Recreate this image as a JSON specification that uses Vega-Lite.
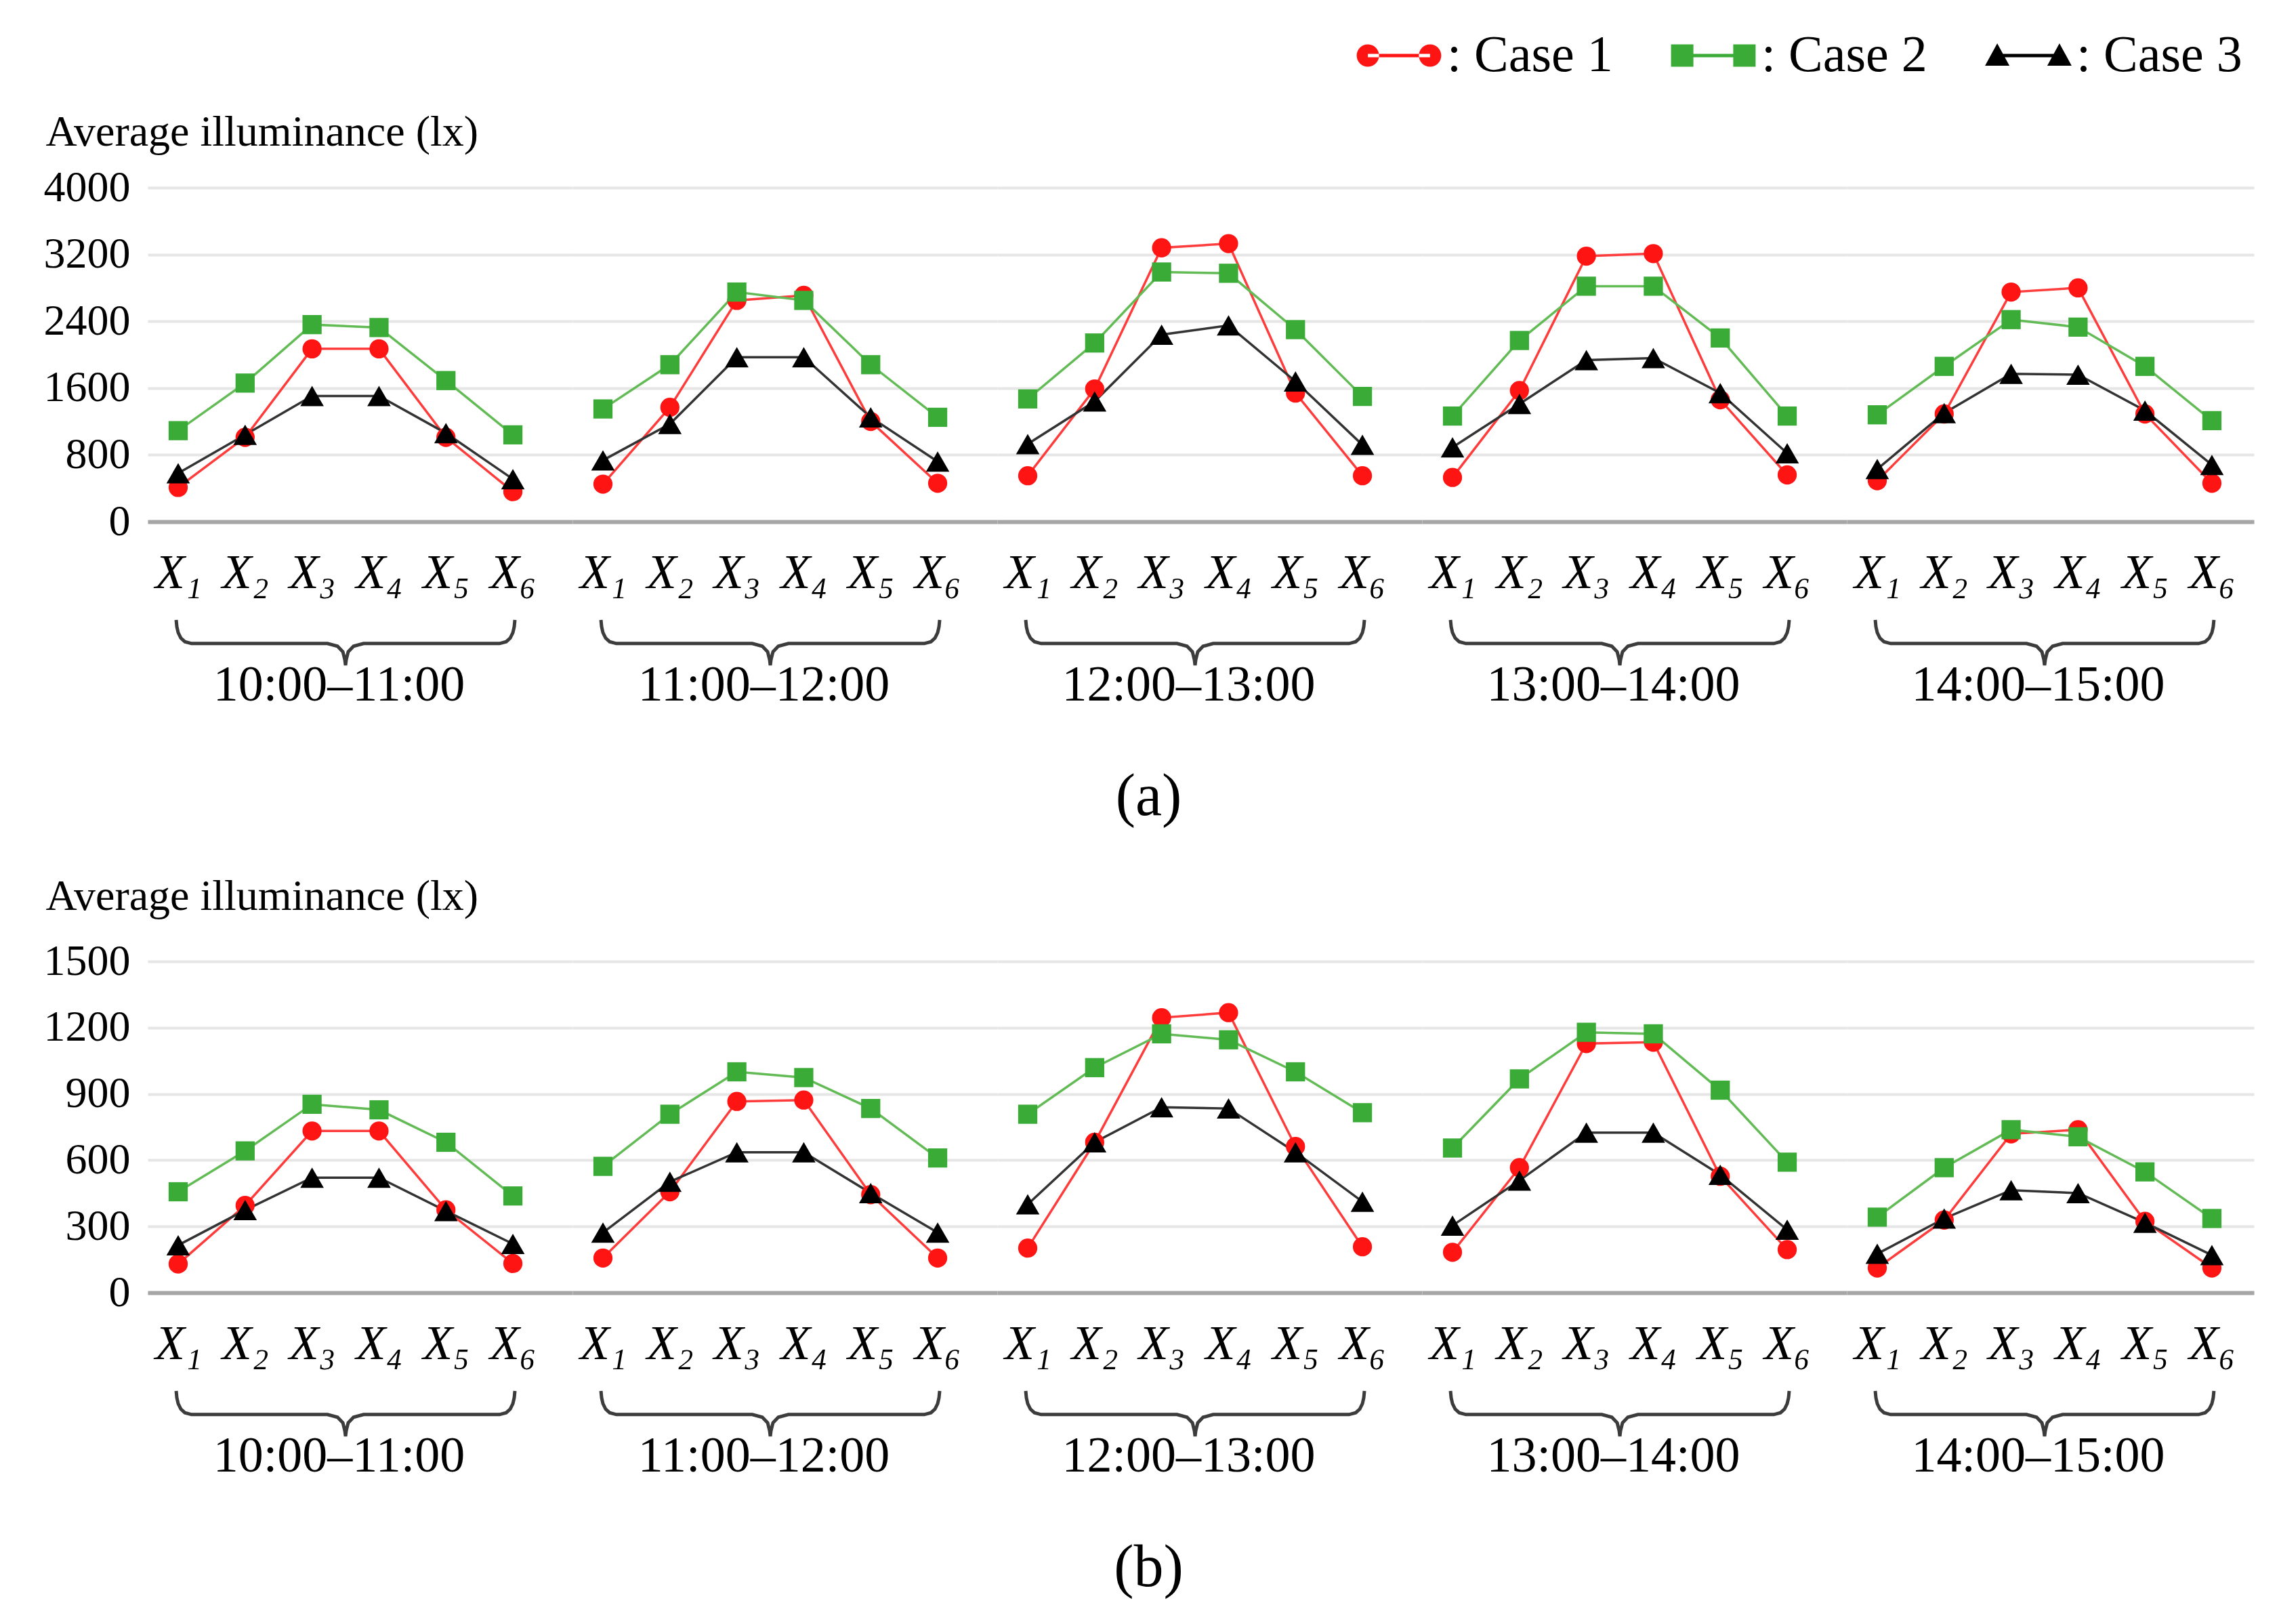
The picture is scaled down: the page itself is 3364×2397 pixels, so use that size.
{
  "$schema": "https://vega.github.io/schema/vega-lite/v6.json",
  "background": "white",
  "padding": {"left": 64, "top": 44, "right": 10, "bottom": 10},
  "datasets": {
    "illum": [
      {"panel": "a", "period": "10:00–11:00", "case": "Case 1", "sensor": 1, "lux": 410},
      {"panel": "a", "period": "10:00–11:00", "case": "Case 1", "sensor": 2, "lux": 1010},
      {"panel": "a", "period": "10:00–11:00", "case": "Case 1", "sensor": 3, "lux": 2070},
      {"panel": "a", "period": "10:00–11:00", "case": "Case 1", "sensor": 4, "lux": 2070},
      {"panel": "a", "period": "10:00–11:00", "case": "Case 1", "sensor": 5, "lux": 1010},
      {"panel": "a", "period": "10:00–11:00", "case": "Case 1", "sensor": 6, "lux": 360},
      {"panel": "a", "period": "10:00–11:00", "case": "Case 2", "sensor": 1, "lux": 1090},
      {"panel": "a", "period": "10:00–11:00", "case": "Case 2", "sensor": 2, "lux": 1660},
      {"panel": "a", "period": "10:00–11:00", "case": "Case 2", "sensor": 3, "lux": 2360},
      {"panel": "a", "period": "10:00–11:00", "case": "Case 2", "sensor": 4, "lux": 2325},
      {"panel": "a", "period": "10:00–11:00", "case": "Case 2", "sensor": 5, "lux": 1690},
      {"panel": "a", "period": "10:00–11:00", "case": "Case 2", "sensor": 6, "lux": 1040},
      {"panel": "a", "period": "10:00–11:00", "case": "Case 3", "sensor": 1, "lux": 580},
      {"panel": "a", "period": "10:00–11:00", "case": "Case 3", "sensor": 2, "lux": 1040},
      {"panel": "a", "period": "10:00–11:00", "case": "Case 3", "sensor": 3, "lux": 1505},
      {"panel": "a", "period": "10:00–11:00", "case": "Case 3", "sensor": 4, "lux": 1505},
      {"panel": "a", "period": "10:00–11:00", "case": "Case 3", "sensor": 5, "lux": 1060},
      {"panel": "a", "period": "10:00–11:00", "case": "Case 3", "sensor": 6, "lux": 510},
      {"panel": "a", "period": "11:00–12:00", "case": "Case 1", "sensor": 1, "lux": 450},
      {"panel": "a", "period": "11:00–12:00", "case": "Case 1", "sensor": 2, "lux": 1370},
      {"panel": "a", "period": "11:00–12:00", "case": "Case 1", "sensor": 3, "lux": 2650},
      {"panel": "a", "period": "11:00–12:00", "case": "Case 1", "sensor": 4, "lux": 2710},
      {"panel": "a", "period": "11:00–12:00", "case": "Case 1", "sensor": 5, "lux": 1200},
      {"panel": "a", "period": "11:00–12:00", "case": "Case 1", "sensor": 6, "lux": 460},
      {"panel": "a", "period": "11:00–12:00", "case": "Case 2", "sensor": 1, "lux": 1350},
      {"panel": "a", "period": "11:00–12:00", "case": "Case 2", "sensor": 2, "lux": 1880},
      {"panel": "a", "period": "11:00–12:00", "case": "Case 2", "sensor": 3, "lux": 2750},
      {"panel": "a", "period": "11:00–12:00", "case": "Case 2", "sensor": 4, "lux": 2650},
      {"panel": "a", "period": "11:00–12:00", "case": "Case 2", "sensor": 5, "lux": 1880},
      {"panel": "a", "period": "11:00–12:00", "case": "Case 2", "sensor": 6, "lux": 1250},
      {"panel": "a", "period": "11:00–12:00", "case": "Case 3", "sensor": 1, "lux": 735},
      {"panel": "a", "period": "11:00–12:00", "case": "Case 3", "sensor": 2, "lux": 1170},
      {"panel": "a", "period": "11:00–12:00", "case": "Case 3", "sensor": 3, "lux": 1970},
      {"panel": "a", "period": "11:00–12:00", "case": "Case 3", "sensor": 4, "lux": 1970},
      {"panel": "a", "period": "11:00–12:00", "case": "Case 3", "sensor": 5, "lux": 1250},
      {"panel": "a", "period": "11:00–12:00", "case": "Case 3", "sensor": 6, "lux": 720},
      {"panel": "a", "period": "12:00–13:00", "case": "Case 1", "sensor": 1, "lux": 550},
      {"panel": "a", "period": "12:00–13:00", "case": "Case 1", "sensor": 2, "lux": 1590},
      {"panel": "a", "period": "12:00–13:00", "case": "Case 1", "sensor": 3, "lux": 3280},
      {"panel": "a", "period": "12:00–13:00", "case": "Case 1", "sensor": 4, "lux": 3330},
      {"panel": "a", "period": "12:00–13:00", "case": "Case 1", "sensor": 5, "lux": 1540},
      {"panel": "a", "period": "12:00–13:00", "case": "Case 1", "sensor": 6, "lux": 550},
      {"panel": "a", "period": "12:00–13:00", "case": "Case 2", "sensor": 1, "lux": 1470},
      {"panel": "a", "period": "12:00–13:00", "case": "Case 2", "sensor": 2, "lux": 2140},
      {"panel": "a", "period": "12:00–13:00", "case": "Case 2", "sensor": 3, "lux": 2990},
      {"panel": "a", "period": "12:00–13:00", "case": "Case 2", "sensor": 4, "lux": 2975},
      {"panel": "a", "period": "12:00–13:00", "case": "Case 2", "sensor": 5, "lux": 2300},
      {"panel": "a", "period": "12:00–13:00", "case": "Case 2", "sensor": 6, "lux": 1500},
      {"panel": "a", "period": "12:00–13:00", "case": "Case 3", "sensor": 1, "lux": 930},
      {"panel": "a", "period": "12:00–13:00", "case": "Case 3", "sensor": 2, "lux": 1440},
      {"panel": "a", "period": "12:00–13:00", "case": "Case 3", "sensor": 3, "lux": 2240},
      {"panel": "a", "period": "12:00–13:00", "case": "Case 3", "sensor": 4, "lux": 2350},
      {"panel": "a", "period": "12:00–13:00", "case": "Case 3", "sensor": 5, "lux": 1680},
      {"panel": "a", "period": "12:00–13:00", "case": "Case 3", "sensor": 6, "lux": 920},
      {"panel": "a", "period": "13:00–14:00", "case": "Case 1", "sensor": 1, "lux": 530},
      {"panel": "a", "period": "13:00–14:00", "case": "Case 1", "sensor": 2, "lux": 1570},
      {"panel": "a", "period": "13:00–14:00", "case": "Case 1", "sensor": 3, "lux": 3180},
      {"panel": "a", "period": "13:00–14:00", "case": "Case 1", "sensor": 4, "lux": 3210},
      {"panel": "a", "period": "13:00–14:00", "case": "Case 1", "sensor": 5, "lux": 1460},
      {"panel": "a", "period": "13:00–14:00", "case": "Case 1", "sensor": 6, "lux": 560},
      {"panel": "a", "period": "13:00–14:00", "case": "Case 2", "sensor": 1, "lux": 1265},
      {"panel": "a", "period": "13:00–14:00", "case": "Case 2", "sensor": 2, "lux": 2170},
      {"panel": "a", "period": "13:00–14:00", "case": "Case 2", "sensor": 3, "lux": 2820},
      {"panel": "a", "period": "13:00–14:00", "case": "Case 2", "sensor": 4, "lux": 2820},
      {"panel": "a", "period": "13:00–14:00", "case": "Case 2", "sensor": 5, "lux": 2200},
      {"panel": "a", "period": "13:00–14:00", "case": "Case 2", "sensor": 6, "lux": 1265},
      {"panel": "a", "period": "13:00–14:00", "case": "Case 3", "sensor": 1, "lux": 890},
      {"panel": "a", "period": "13:00–14:00", "case": "Case 3", "sensor": 2, "lux": 1410},
      {"panel": "a", "period": "13:00–14:00", "case": "Case 3", "sensor": 3, "lux": 1935},
      {"panel": "a", "period": "13:00–14:00", "case": "Case 3", "sensor": 4, "lux": 1960},
      {"panel": "a", "period": "13:00–14:00", "case": "Case 3", "sensor": 5, "lux": 1540},
      {"panel": "a", "period": "13:00–14:00", "case": "Case 3", "sensor": 6, "lux": 820},
      {"panel": "a", "period": "14:00–15:00", "case": "Case 1", "sensor": 1, "lux": 490},
      {"panel": "a", "period": "14:00–15:00", "case": "Case 1", "sensor": 2, "lux": 1290},
      {"panel": "a", "period": "14:00–15:00", "case": "Case 1", "sensor": 3, "lux": 2750},
      {"panel": "a", "period": "14:00–15:00", "case": "Case 1", "sensor": 4, "lux": 2800},
      {"panel": "a", "period": "14:00–15:00", "case": "Case 1", "sensor": 5, "lux": 1290},
      {"panel": "a", "period": "14:00–15:00", "case": "Case 1", "sensor": 6, "lux": 460},
      {"panel": "a", "period": "14:00–15:00", "case": "Case 2", "sensor": 1, "lux": 1280},
      {"panel": "a", "period": "14:00–15:00", "case": "Case 2", "sensor": 2, "lux": 1860},
      {"panel": "a", "period": "14:00–15:00", "case": "Case 2", "sensor": 3, "lux": 2420},
      {"panel": "a", "period": "14:00–15:00", "case": "Case 2", "sensor": 4, "lux": 2330},
      {"panel": "a", "period": "14:00–15:00", "case": "Case 2", "sensor": 5, "lux": 1860},
      {"panel": "a", "period": "14:00–15:00", "case": "Case 2", "sensor": 6, "lux": 1210},
      {"panel": "a", "period": "14:00–15:00", "case": "Case 3", "sensor": 1, "lux": 630},
      {"panel": "a", "period": "14:00–15:00", "case": "Case 3", "sensor": 2, "lux": 1300},
      {"panel": "a", "period": "14:00–15:00", "case": "Case 3", "sensor": 3, "lux": 1770},
      {"panel": "a", "period": "14:00–15:00", "case": "Case 3", "sensor": 4, "lux": 1760},
      {"panel": "a", "period": "14:00–15:00", "case": "Case 3", "sensor": 5, "lux": 1330},
      {"panel": "a", "period": "14:00–15:00", "case": "Case 3", "sensor": 6, "lux": 680},
      {"panel": "b", "period": "10:00–11:00", "case": "Case 1", "sensor": 1, "lux": 130},
      {"panel": "b", "period": "10:00–11:00", "case": "Case 1", "sensor": 2, "lux": 395},
      {"panel": "b", "period": "10:00–11:00", "case": "Case 1", "sensor": 3, "lux": 732},
      {"panel": "b", "period": "10:00–11:00", "case": "Case 1", "sensor": 4, "lux": 732},
      {"panel": "b", "period": "10:00–11:00", "case": "Case 1", "sensor": 5, "lux": 375},
      {"panel": "b", "period": "10:00–11:00", "case": "Case 1", "sensor": 6, "lux": 132},
      {"panel": "b", "period": "10:00–11:00", "case": "Case 2", "sensor": 1, "lux": 457},
      {"panel": "b", "period": "10:00–11:00", "case": "Case 2", "sensor": 2, "lux": 642},
      {"panel": "b", "period": "10:00–11:00", "case": "Case 2", "sensor": 3, "lux": 853},
      {"panel": "b", "period": "10:00–11:00", "case": "Case 2", "sensor": 4, "lux": 828},
      {"panel": "b", "period": "10:00–11:00", "case": "Case 2", "sensor": 5, "lux": 681},
      {"panel": "b", "period": "10:00–11:00", "case": "Case 2", "sensor": 6, "lux": 438},
      {"panel": "b", "period": "10:00–11:00", "case": "Case 3", "sensor": 1, "lux": 215},
      {"panel": "b", "period": "10:00–11:00", "case": "Case 3", "sensor": 2, "lux": 374},
      {"panel": "b", "period": "10:00–11:00", "case": "Case 3", "sensor": 3, "lux": 521},
      {"panel": "b", "period": "10:00–11:00", "case": "Case 3", "sensor": 4, "lux": 521},
      {"panel": "b", "period": "10:00–11:00", "case": "Case 3", "sensor": 5, "lux": 370},
      {"panel": "b", "period": "10:00–11:00", "case": "Case 3", "sensor": 6, "lux": 221},
      {"panel": "b", "period": "11:00–12:00", "case": "Case 1", "sensor": 1, "lux": 157},
      {"panel": "b", "period": "11:00–12:00", "case": "Case 1", "sensor": 2, "lux": 457},
      {"panel": "b", "period": "11:00–12:00", "case": "Case 1", "sensor": 3, "lux": 866},
      {"panel": "b", "period": "11:00–12:00", "case": "Case 1", "sensor": 4, "lux": 872},
      {"panel": "b", "period": "11:00–12:00", "case": "Case 1", "sensor": 5, "lux": 444},
      {"panel": "b", "period": "11:00–12:00", "case": "Case 1", "sensor": 6, "lux": 157},
      {"panel": "b", "period": "11:00–12:00", "case": "Case 2", "sensor": 1, "lux": 572},
      {"panel": "b", "period": "11:00–12:00", "case": "Case 2", "sensor": 2, "lux": 808},
      {"panel": "b", "period": "11:00–12:00", "case": "Case 2", "sensor": 3, "lux": 1000},
      {"panel": "b", "period": "11:00–12:00", "case": "Case 2", "sensor": 4, "lux": 974},
      {"panel": "b", "period": "11:00–12:00", "case": "Case 2", "sensor": 5, "lux": 834},
      {"panel": "b", "period": "11:00–12:00", "case": "Case 2", "sensor": 6, "lux": 610},
      {"panel": "b", "period": "11:00–12:00", "case": "Case 3", "sensor": 1, "lux": 272},
      {"panel": "b", "period": "11:00–12:00", "case": "Case 3", "sensor": 2, "lux": 502},
      {"panel": "b", "period": "11:00–12:00", "case": "Case 3", "sensor": 3, "lux": 636},
      {"panel": "b", "period": "11:00–12:00", "case": "Case 3", "sensor": 4, "lux": 636},
      {"panel": "b", "period": "11:00–12:00", "case": "Case 3", "sensor": 5, "lux": 451},
      {"panel": "b", "period": "11:00–12:00", "case": "Case 3", "sensor": 6, "lux": 272},
      {"panel": "b", "period": "12:00–13:00", "case": "Case 1", "sensor": 1, "lux": 202},
      {"panel": "b", "period": "12:00–13:00", "case": "Case 1", "sensor": 2, "lux": 681},
      {"panel": "b", "period": "12:00–13:00", "case": "Case 1", "sensor": 3, "lux": 1245},
      {"panel": "b", "period": "12:00–13:00", "case": "Case 1", "sensor": 4, "lux": 1268},
      {"panel": "b", "period": "12:00–13:00", "case": "Case 1", "sensor": 5, "lux": 662},
      {"panel": "b", "period": "12:00–13:00", "case": "Case 1", "sensor": 6, "lux": 208},
      {"panel": "b", "period": "12:00–13:00", "case": "Case 2", "sensor": 1, "lux": 808},
      {"panel": "b", "period": "12:00–13:00", "case": "Case 2", "sensor": 2, "lux": 1019},
      {"panel": "b", "period": "12:00–13:00", "case": "Case 2", "sensor": 3, "lux": 1172},
      {"panel": "b", "period": "12:00–13:00", "case": "Case 2", "sensor": 4, "lux": 1145},
      {"panel": "b", "period": "12:00–13:00", "case": "Case 2", "sensor": 5, "lux": 1000},
      {"panel": "b", "period": "12:00–13:00", "case": "Case 2", "sensor": 6, "lux": 815},
      {"panel": "b", "period": "12:00–13:00", "case": "Case 3", "sensor": 1, "lux": 400},
      {"panel": "b", "period": "12:00–13:00", "case": "Case 3", "sensor": 2, "lux": 681},
      {"panel": "b", "period": "12:00–13:00", "case": "Case 3", "sensor": 3, "lux": 840},
      {"panel": "b", "period": "12:00–13:00", "case": "Case 3", "sensor": 4, "lux": 834},
      {"panel": "b", "period": "12:00–13:00", "case": "Case 3", "sensor": 5, "lux": 636},
      {"panel": "b", "period": "12:00–13:00", "case": "Case 3", "sensor": 6, "lux": 412},
      {"panel": "b", "period": "13:00–14:00", "case": "Case 1", "sensor": 1, "lux": 183},
      {"panel": "b", "period": "13:00–14:00", "case": "Case 1", "sensor": 2, "lux": 566},
      {"panel": "b", "period": "13:00–14:00", "case": "Case 1", "sensor": 3, "lux": 1128},
      {"panel": "b", "period": "13:00–14:00", "case": "Case 1", "sensor": 4, "lux": 1134},
      {"panel": "b", "period": "13:00–14:00", "case": "Case 1", "sensor": 5, "lux": 527},
      {"panel": "b", "period": "13:00–14:00", "case": "Case 1", "sensor": 6, "lux": 195},
      {"panel": "b", "period": "13:00–14:00", "case": "Case 2", "sensor": 1, "lux": 655},
      {"panel": "b", "period": "13:00–14:00", "case": "Case 2", "sensor": 2, "lux": 968},
      {"panel": "b", "period": "13:00–14:00", "case": "Case 2", "sensor": 3, "lux": 1179},
      {"panel": "b", "period": "13:00–14:00", "case": "Case 2", "sensor": 4, "lux": 1172},
      {"panel": "b", "period": "13:00–14:00", "case": "Case 2", "sensor": 5, "lux": 917},
      {"panel": "b", "period": "13:00–14:00", "case": "Case 2", "sensor": 6, "lux": 591},
      {"panel": "b", "period": "13:00–14:00", "case": "Case 3", "sensor": 1, "lux": 304},
      {"panel": "b", "period": "13:00–14:00", "case": "Case 3", "sensor": 2, "lux": 508},
      {"panel": "b", "period": "13:00–14:00", "case": "Case 3", "sensor": 3, "lux": 725},
      {"panel": "b", "period": "13:00–14:00", "case": "Case 3", "sensor": 4, "lux": 725},
      {"panel": "b", "period": "13:00–14:00", "case": "Case 3", "sensor": 5, "lux": 534},
      {"panel": "b", "period": "13:00–14:00", "case": "Case 3", "sensor": 6, "lux": 285},
      {"panel": "b", "period": "14:00–15:00", "case": "Case 1", "sensor": 1, "lux": 112},
      {"panel": "b", "period": "14:00–15:00", "case": "Case 1", "sensor": 2, "lux": 329},
      {"panel": "b", "period": "14:00–15:00", "case": "Case 1", "sensor": 3, "lux": 719},
      {"panel": "b", "period": "14:00–15:00", "case": "Case 1", "sensor": 4, "lux": 738},
      {"panel": "b", "period": "14:00–15:00", "case": "Case 1", "sensor": 5, "lux": 323},
      {"panel": "b", "period": "14:00–15:00", "case": "Case 1", "sensor": 6, "lux": 112},
      {"panel": "b", "period": "14:00–15:00", "case": "Case 2", "sensor": 1, "lux": 342},
      {"panel": "b", "period": "14:00–15:00", "case": "Case 2", "sensor": 2, "lux": 566},
      {"panel": "b", "period": "14:00–15:00", "case": "Case 2", "sensor": 3, "lux": 738},
      {"panel": "b", "period": "14:00–15:00", "case": "Case 2", "sensor": 4, "lux": 706},
      {"panel": "b", "period": "14:00–15:00", "case": "Case 2", "sensor": 5, "lux": 547},
      {"panel": "b", "period": "14:00–15:00", "case": "Case 2", "sensor": 6, "lux": 336},
      {"panel": "b", "period": "14:00–15:00", "case": "Case 3", "sensor": 1, "lux": 176},
      {"panel": "b", "period": "14:00–15:00", "case": "Case 3", "sensor": 2, "lux": 336},
      {"panel": "b", "period": "14:00–15:00", "case": "Case 3", "sensor": 3, "lux": 464},
      {"panel": "b", "period": "14:00–15:00", "case": "Case 3", "sensor": 4, "lux": 451},
      {"panel": "b", "period": "14:00–15:00", "case": "Case 3", "sensor": 5, "lux": 317},
      {"panel": "b", "period": "14:00–15:00", "case": "Case 3", "sensor": 6, "lux": 170}
    ],
    "brace": [
      {"pos": 0.97, "level": 1.0},
      {"pos": 0.98, "level": 0.85},
      {"pos": 1.0, "level": 0.72},
      {"pos": 1.04, "level": 0.6},
      {"pos": 1.1, "level": 0.52},
      {"pos": 1.2, "level": 0.48},
      {"pos": 3.23, "level": 0.48},
      {"pos": 3.38, "level": 0.42},
      {"pos": 3.46, "level": 0.3},
      {"pos": 3.49, "level": 0.12},
      {"pos": 3.5, "level": 0.0},
      {"pos": 3.51, "level": 0.12},
      {"pos": 3.54, "level": 0.3},
      {"pos": 3.62, "level": 0.42},
      {"pos": 3.77, "level": 0.48},
      {"pos": 5.8, "level": 0.48},
      {"pos": 5.9, "level": 0.52},
      {"pos": 5.96, "level": 0.6},
      {"pos": 6.0, "level": 0.72},
      {"pos": 6.02, "level": 0.85},
      {"pos": 6.03, "level": 1.0}
    ]
  },
  "vconcat": [
    {
      "title": {"text": "(a)", "orient": "bottom", "anchor": "middle", "fontSize": 88, "offset": 85},
      "spacing": 0,
      "hconcat": [
        {
          "spacing": 24,
          "vconcat": [
            {
              "width": 627, "height": 493,
              "data": {"name": "illum"},
              "transform": [{"filter": "datum.panel === 'a' && datum.period === '10:00–11:00'"}],
              "encoding": {
                "x": {"field": "sensor", "type": "quantitative", "scale": {"domain": [0.5445, 6.89], "nice": false, "zero": false}, "axis": {"values": [1, 2, 3, 4, 5, 6], "labelExpr": "'X' + ['₁','₂','₃','₄','₅','₆'][datum.value - 1]", "title": null}},
                "y": {"field": "lux", "type": "quantitative", "scale": {"domain": [0, 4000], "nice": false}, "axis": {"values": [0, 800, 1600, 2400, 3200, 4000], "format": "d", "title": "Average illuminance (lx)", "titleAngle": 0, "titleAlign": "left", "titleBaseline": "alphabetic", "titleX": -151, "titleY": -63}}
              },
              "layer": [
                {"mark": {"type": "line", "strokeWidth": 3.5}, "encoding": {"detail": {"field": "case"}, "color": {"condition": [{"test": "datum.case === 'Case 1'", "value": "#ff3c3c"}, {"test": "datum.case === 'Case 2'", "value": "#62bb55"}], "value": "#333333"}}},
                {"mark": {"type": "point", "filled": true, "opacity": 1}, "encoding": {"color": {"condition": [{"test": "datum.case === 'Case 1'", "value": "#ff1414"}, {"test": "datum.case === 'Case 2'", "value": "#3aab36"}], "value": "#000000"}, "shape": {"condition": [{"test": "datum.case === 'Case 1'", "value": "circle"}, {"test": "datum.case === 'Case 2'", "value": "square"}], "value": "triangle-up"}, "size": {"condition": {"test": "datum.case === 'Case 3'", "value": 1200}, "value": 800}}},
                {"transform": [{"filter": "false"}], "mark": {"type": "point", "filled": true, "opacity": 1},
                 "encoding": {
                   "color": {"field": "case", "type": "nominal", "scale": {"domain": ["Case 1", "Case 2", "Case 3"], "range": ["#ff1414", "#3aab36", "#000000"]},
                     "legend": {"orient": "none", "legendX": 1809, "legendY": -233, "direction": "horizontal", "title": null, "labelExpr": "': ' + datum.label", "labelLimit": 0}},
                   "shape": {"field": "case", "type": "nominal", "scale": {"domain": ["Case 1", "Case 2", "Case 3"], "range": [
                     "M-2.08,0 A0.55,0.55 0 1,0 -0.98,0 A0.55,0.55 0 1,0 -2.08,0 Z M0.98,0 A0.55,0.55 0 1,0 2.08,0 A0.55,0.55 0 1,0 0.98,0 Z M-1.53,-0.08 H1.53 V0.08 H-1.53 Z",
                     "M-2.08,-0.55 H-0.98 V0.55 H-2.08 Z M0.98,-0.55 H2.08 V0.55 H0.98 Z M-1.53,-0.08 H1.53 V0.08 H-1.53 Z",
                     "M-1.53,-0.6 L-0.93,0.5 L-2.13,0.5 Z M1.53,-0.6 L2.13,0.5 L0.93,0.5 Z M-1.53,-0.08 H1.53 V0.08 H-1.53 Z"]},
                     "legend": {"orient": "none", "legendX": 1809, "legendY": -233, "direction": "horizontal", "title": null, "labelExpr": "': ' + datum.label", "labelLimit": 0}}
                 }}
              ]
            },
            {
              "width": 627, "height": 67,
              "data": {"name": "brace"},
              "mark": {"type": "line", "color": "#3c3c3c", "strokeWidth": 5},
              "encoding": {
                "x": {"field": "pos", "type": "quantitative", "scale": {"domain": [0.5445, 6.89], "nice": false, "zero": false}, "axis": {"labels": false, "domain": false, "title": "10:00–11:00", "titleX": 282, "titleAlign": "center", "titlePadding": -7, "titleFontSize": 74, "titleFontStyle": "normal"}},
                "y": {"field": "level", "type": "quantitative", "scale": {"domain": [0, 1], "nice": false, "zero": false}, "axis": null}
              }
            }
          ]
        },
        {
          "spacing": 24,
          "vconcat": [
            {
              "width": 627, "height": 493,
              "data": {"name": "illum"},
              "transform": [{"filter": "datum.panel === 'a' && datum.period === '11:00–12:00'"}],
              "encoding": {
                "x": {"field": "sensor", "type": "quantitative", "scale": {"domain": [0.5445, 6.89], "nice": false, "zero": false}, "axis": {"values": [1, 2, 3, 4, 5, 6], "labelExpr": "'X' + ['₁','₂','₃','₄','₅','₆'][datum.value - 1]", "title": null}},
                "y": {"field": "lux", "type": "quantitative", "scale": {"domain": [0, 4000], "nice": false}, "axis": {"values": [0, 800, 1600, 2400, 3200, 4000], "labels": false, "title": null}}
              },
              "layer": [
                {"mark": {"type": "line", "strokeWidth": 3.5}, "encoding": {"detail": {"field": "case"}, "color": {"condition": [{"test": "datum.case === 'Case 1'", "value": "#ff3c3c"}, {"test": "datum.case === 'Case 2'", "value": "#62bb55"}], "value": "#333333"}}},
                {"mark": {"type": "point", "filled": true, "opacity": 1}, "encoding": {"color": {"condition": [{"test": "datum.case === 'Case 1'", "value": "#ff1414"}, {"test": "datum.case === 'Case 2'", "value": "#3aab36"}], "value": "#000000"}, "shape": {"condition": [{"test": "datum.case === 'Case 1'", "value": "circle"}, {"test": "datum.case === 'Case 2'", "value": "square"}], "value": "triangle-up"}, "size": {"condition": {"test": "datum.case === 'Case 3'", "value": 1200}, "value": 800}}}
              ]
            },
            {
              "width": 627, "height": 67,
              "data": {"name": "brace"},
              "mark": {"type": "line", "color": "#3c3c3c", "strokeWidth": 5},
              "encoding": {
                "x": {"field": "pos", "type": "quantitative", "scale": {"domain": [0.5445, 6.89], "nice": false, "zero": false}, "axis": {"labels": false, "domain": false, "title": "11:00–12:00", "titleX": 282, "titleAlign": "center", "titlePadding": -7, "titleFontSize": 74, "titleFontStyle": "normal"}},
                "y": {"field": "level", "type": "quantitative", "scale": {"domain": [0, 1], "nice": false, "zero": false}, "axis": null}
              }
            }
          ]
        },
        {
          "spacing": 24,
          "vconcat": [
            {
              "width": 627, "height": 493,
              "data": {"name": "illum"},
              "transform": [{"filter": "datum.panel === 'a' && datum.period === '12:00–13:00'"}],
              "encoding": {
                "x": {"field": "sensor", "type": "quantitative", "scale": {"domain": [0.5445, 6.89], "nice": false, "zero": false}, "axis": {"values": [1, 2, 3, 4, 5, 6], "labelExpr": "'X' + ['₁','₂','₃','₄','₅','₆'][datum.value - 1]", "title": null}},
                "y": {"field": "lux", "type": "quantitative", "scale": {"domain": [0, 4000], "nice": false}, "axis": {"values": [0, 800, 1600, 2400, 3200, 4000], "labels": false, "title": null}}
              },
              "layer": [
                {"mark": {"type": "line", "strokeWidth": 3.5}, "encoding": {"detail": {"field": "case"}, "color": {"condition": [{"test": "datum.case === 'Case 1'", "value": "#ff3c3c"}, {"test": "datum.case === 'Case 2'", "value": "#62bb55"}], "value": "#333333"}}},
                {"mark": {"type": "point", "filled": true, "opacity": 1}, "encoding": {"color": {"condition": [{"test": "datum.case === 'Case 1'", "value": "#ff1414"}, {"test": "datum.case === 'Case 2'", "value": "#3aab36"}], "value": "#000000"}, "shape": {"condition": [{"test": "datum.case === 'Case 1'", "value": "circle"}, {"test": "datum.case === 'Case 2'", "value": "square"}], "value": "triangle-up"}, "size": {"condition": {"test": "datum.case === 'Case 3'", "value": 1200}, "value": 800}}}
              ]
            },
            {
              "width": 627, "height": 67,
              "data": {"name": "brace"},
              "mark": {"type": "line", "color": "#3c3c3c", "strokeWidth": 5},
              "encoding": {
                "x": {"field": "pos", "type": "quantitative", "scale": {"domain": [0.5445, 6.89], "nice": false, "zero": false}, "axis": {"labels": false, "domain": false, "title": "12:00–13:00", "titleX": 282, "titleAlign": "center", "titlePadding": -7, "titleFontSize": 74, "titleFontStyle": "normal"}},
                "y": {"field": "level", "type": "quantitative", "scale": {"domain": [0, 1], "nice": false, "zero": false}, "axis": null}
              }
            }
          ]
        },
        {
          "spacing": 24,
          "vconcat": [
            {
              "width": 627, "height": 493,
              "data": {"name": "illum"},
              "transform": [{"filter": "datum.panel === 'a' && datum.period === '13:00–14:00'"}],
              "encoding": {
                "x": {"field": "sensor", "type": "quantitative", "scale": {"domain": [0.5445, 6.89], "nice": false, "zero": false}, "axis": {"values": [1, 2, 3, 4, 5, 6], "labelExpr": "'X' + ['₁','₂','₃','₄','₅','₆'][datum.value - 1]", "title": null}},
                "y": {"field": "lux", "type": "quantitative", "scale": {"domain": [0, 4000], "nice": false}, "axis": {"values": [0, 800, 1600, 2400, 3200, 4000], "labels": false, "title": null}}
              },
              "layer": [
                {"mark": {"type": "line", "strokeWidth": 3.5}, "encoding": {"detail": {"field": "case"}, "color": {"condition": [{"test": "datum.case === 'Case 1'", "value": "#ff3c3c"}, {"test": "datum.case === 'Case 2'", "value": "#62bb55"}], "value": "#333333"}}},
                {"mark": {"type": "point", "filled": true, "opacity": 1}, "encoding": {"color": {"condition": [{"test": "datum.case === 'Case 1'", "value": "#ff1414"}, {"test": "datum.case === 'Case 2'", "value": "#3aab36"}], "value": "#000000"}, "shape": {"condition": [{"test": "datum.case === 'Case 1'", "value": "circle"}, {"test": "datum.case === 'Case 2'", "value": "square"}], "value": "triangle-up"}, "size": {"condition": {"test": "datum.case === 'Case 3'", "value": 1200}, "value": 800}}}
              ]
            },
            {
              "width": 627, "height": 67,
              "data": {"name": "brace"},
              "mark": {"type": "line", "color": "#3c3c3c", "strokeWidth": 5},
              "encoding": {
                "x": {"field": "pos", "type": "quantitative", "scale": {"domain": [0.5445, 6.89], "nice": false, "zero": false}, "axis": {"labels": false, "domain": false, "title": "13:00–14:00", "titleX": 282, "titleAlign": "center", "titlePadding": -7, "titleFontSize": 74, "titleFontStyle": "normal"}},
                "y": {"field": "level", "type": "quantitative", "scale": {"domain": [0, 1], "nice": false, "zero": false}, "axis": null}
              }
            }
          ]
        },
        {
          "spacing": 24,
          "vconcat": [
            {
              "width": 601, "height": 493,
              "data": {"name": "illum"},
              "transform": [{"filter": "datum.panel === 'a' && datum.period === '14:00–15:00'"}],
              "encoding": {
                "x": {"field": "sensor", "type": "quantitative", "scale": {"domain": [0.5445, 6.628], "nice": false, "zero": false}, "axis": {"values": [1, 2, 3, 4, 5, 6], "labelExpr": "'X' + ['₁','₂','₃','₄','₅','₆'][datum.value - 1]", "title": null}},
                "y": {"field": "lux", "type": "quantitative", "scale": {"domain": [0, 4000], "nice": false}, "axis": {"values": [0, 800, 1600, 2400, 3200, 4000], "labels": false, "title": null}}
              },
              "layer": [
                {"mark": {"type": "line", "strokeWidth": 3.5}, "encoding": {"detail": {"field": "case"}, "color": {"condition": [{"test": "datum.case === 'Case 1'", "value": "#ff3c3c"}, {"test": "datum.case === 'Case 2'", "value": "#62bb55"}], "value": "#333333"}}},
                {"mark": {"type": "point", "filled": true, "opacity": 1}, "encoding": {"color": {"condition": [{"test": "datum.case === 'Case 1'", "value": "#ff1414"}, {"test": "datum.case === 'Case 2'", "value": "#3aab36"}], "value": "#000000"}, "shape": {"condition": [{"test": "datum.case === 'Case 1'", "value": "circle"}, {"test": "datum.case === 'Case 2'", "value": "square"}], "value": "triangle-up"}, "size": {"condition": {"test": "datum.case === 'Case 3'", "value": 1200}, "value": 800}}}
              ]
            },
            {
              "width": 601, "height": 67,
              "data": {"name": "brace"},
              "mark": {"type": "line", "color": "#3c3c3c", "strokeWidth": 5},
              "encoding": {
                "x": {"field": "pos", "type": "quantitative", "scale": {"domain": [0.5445, 6.628], "nice": false, "zero": false}, "axis": {"labels": false, "domain": false, "title": "14:00–15:00", "titleX": 282, "titleAlign": "center", "titlePadding": -7, "titleFontSize": 74, "titleFontStyle": "normal"}},
                "y": {"field": "level", "type": "quantitative", "scale": {"domain": [0, 1], "nice": false, "zero": false}, "axis": null}
              }
            }
          ]
        }
      ]
    },
    {
      "title": {"text": "(b)", "orient": "bottom", "anchor": "middle", "fontSize": 88, "offset": 85},
      "spacing": 0,
      "hconcat": [
        {
          "spacing": 24,
          "vconcat": [
            {
              "width": 627, "height": 489,
              "data": {"name": "illum"},
              "transform": [{"filter": "datum.panel === 'b' && datum.period === '10:00–11:00'"}],
              "encoding": {
                "x": {"field": "sensor", "type": "quantitative", "scale": {"domain": [0.5445, 6.89], "nice": false, "zero": false}, "axis": {"values": [1, 2, 3, 4, 5, 6], "labelExpr": "'X' + ['₁','₂','₃','₄','₅','₆'][datum.value - 1]", "title": null}},
                "y": {"field": "lux", "type": "quantitative", "scale": {"domain": [0, 1500], "nice": false}, "axis": {"values": [0, 300, 600, 900, 1200, 1500], "format": "d", "title": "Average illuminance (lx)", "titleAngle": 0, "titleAlign": "left", "titleBaseline": "alphabetic", "titleX": -151, "titleY": -77}}
              },
              "layer": [
                {"mark": {"type": "line", "strokeWidth": 3.5}, "encoding": {"detail": {"field": "case"}, "color": {"condition": [{"test": "datum.case === 'Case 1'", "value": "#ff3c3c"}, {"test": "datum.case === 'Case 2'", "value": "#62bb55"}], "value": "#333333"}}},
                {"mark": {"type": "point", "filled": true, "opacity": 1}, "encoding": {"color": {"condition": [{"test": "datum.case === 'Case 1'", "value": "#ff1414"}, {"test": "datum.case === 'Case 2'", "value": "#3aab36"}], "value": "#000000"}, "shape": {"condition": [{"test": "datum.case === 'Case 1'", "value": "circle"}, {"test": "datum.case === 'Case 2'", "value": "square"}], "value": "triangle-up"}, "size": {"condition": {"test": "datum.case === 'Case 3'", "value": 1200}, "value": 800}}}
              ]
            },
            {
              "width": 627, "height": 67,
              "data": {"name": "brace"},
              "mark": {"type": "line", "color": "#3c3c3c", "strokeWidth": 5},
              "encoding": {
                "x": {"field": "pos", "type": "quantitative", "scale": {"domain": [0.5445, 6.89], "nice": false, "zero": false}, "axis": {"labels": false, "domain": false, "title": "10:00–11:00", "titleX": 282, "titleAlign": "center", "titlePadding": -7, "titleFontSize": 74, "titleFontStyle": "normal"}},
                "y": {"field": "level", "type": "quantitative", "scale": {"domain": [0, 1], "nice": false, "zero": false}, "axis": null}
              }
            }
          ]
        },
        {
          "spacing": 24,
          "vconcat": [
            {
              "width": 627, "height": 489,
              "data": {"name": "illum"},
              "transform": [{"filter": "datum.panel === 'b' && datum.period === '11:00–12:00'"}],
              "encoding": {
                "x": {"field": "sensor", "type": "quantitative", "scale": {"domain": [0.5445, 6.89], "nice": false, "zero": false}, "axis": {"values": [1, 2, 3, 4, 5, 6], "labelExpr": "'X' + ['₁','₂','₃','₄','₅','₆'][datum.value - 1]", "title": null}},
                "y": {"field": "lux", "type": "quantitative", "scale": {"domain": [0, 1500], "nice": false}, "axis": {"values": [0, 300, 600, 900, 1200, 1500], "labels": false, "title": null}}
              },
              "layer": [
                {"mark": {"type": "line", "strokeWidth": 3.5}, "encoding": {"detail": {"field": "case"}, "color": {"condition": [{"test": "datum.case === 'Case 1'", "value": "#ff3c3c"}, {"test": "datum.case === 'Case 2'", "value": "#62bb55"}], "value": "#333333"}}},
                {"mark": {"type": "point", "filled": true, "opacity": 1}, "encoding": {"color": {"condition": [{"test": "datum.case === 'Case 1'", "value": "#ff1414"}, {"test": "datum.case === 'Case 2'", "value": "#3aab36"}], "value": "#000000"}, "shape": {"condition": [{"test": "datum.case === 'Case 1'", "value": "circle"}, {"test": "datum.case === 'Case 2'", "value": "square"}], "value": "triangle-up"}, "size": {"condition": {"test": "datum.case === 'Case 3'", "value": 1200}, "value": 800}}}
              ]
            },
            {
              "width": 627, "height": 67,
              "data": {"name": "brace"},
              "mark": {"type": "line", "color": "#3c3c3c", "strokeWidth": 5},
              "encoding": {
                "x": {"field": "pos", "type": "quantitative", "scale": {"domain": [0.5445, 6.89], "nice": false, "zero": false}, "axis": {"labels": false, "domain": false, "title": "11:00–12:00", "titleX": 282, "titleAlign": "center", "titlePadding": -7, "titleFontSize": 74, "titleFontStyle": "normal"}},
                "y": {"field": "level", "type": "quantitative", "scale": {"domain": [0, 1], "nice": false, "zero": false}, "axis": null}
              }
            }
          ]
        },
        {
          "spacing": 24,
          "vconcat": [
            {
              "width": 627, "height": 489,
              "data": {"name": "illum"},
              "transform": [{"filter": "datum.panel === 'b' && datum.period === '12:00–13:00'"}],
              "encoding": {
                "x": {"field": "sensor", "type": "quantitative", "scale": {"domain": [0.5445, 6.89], "nice": false, "zero": false}, "axis": {"values": [1, 2, 3, 4, 5, 6], "labelExpr": "'X' + ['₁','₂','₃','₄','₅','₆'][datum.value - 1]", "title": null}},
                "y": {"field": "lux", "type": "quantitative", "scale": {"domain": [0, 1500], "nice": false}, "axis": {"values": [0, 300, 600, 900, 1200, 1500], "labels": false, "title": null}}
              },
              "layer": [
                {"mark": {"type": "line", "strokeWidth": 3.5}, "encoding": {"detail": {"field": "case"}, "color": {"condition": [{"test": "datum.case === 'Case 1'", "value": "#ff3c3c"}, {"test": "datum.case === 'Case 2'", "value": "#62bb55"}], "value": "#333333"}}},
                {"mark": {"type": "point", "filled": true, "opacity": 1}, "encoding": {"color": {"condition": [{"test": "datum.case === 'Case 1'", "value": "#ff1414"}, {"test": "datum.case === 'Case 2'", "value": "#3aab36"}], "value": "#000000"}, "shape": {"condition": [{"test": "datum.case === 'Case 1'", "value": "circle"}, {"test": "datum.case === 'Case 2'", "value": "square"}], "value": "triangle-up"}, "size": {"condition": {"test": "datum.case === 'Case 3'", "value": 1200}, "value": 800}}}
              ]
            },
            {
              "width": 627, "height": 67,
              "data": {"name": "brace"},
              "mark": {"type": "line", "color": "#3c3c3c", "strokeWidth": 5},
              "encoding": {
                "x": {"field": "pos", "type": "quantitative", "scale": {"domain": [0.5445, 6.89], "nice": false, "zero": false}, "axis": {"labels": false, "domain": false, "title": "12:00–13:00", "titleX": 282, "titleAlign": "center", "titlePadding": -7, "titleFontSize": 74, "titleFontStyle": "normal"}},
                "y": {"field": "level", "type": "quantitative", "scale": {"domain": [0, 1], "nice": false, "zero": false}, "axis": null}
              }
            }
          ]
        },
        {
          "spacing": 24,
          "vconcat": [
            {
              "width": 627, "height": 489,
              "data": {"name": "illum"},
              "transform": [{"filter": "datum.panel === 'b' && datum.period === '13:00–14:00'"}],
              "encoding": {
                "x": {"field": "sensor", "type": "quantitative", "scale": {"domain": [0.5445, 6.89], "nice": false, "zero": false}, "axis": {"values": [1, 2, 3, 4, 5, 6], "labelExpr": "'X' + ['₁','₂','₃','₄','₅','₆'][datum.value - 1]", "title": null}},
                "y": {"field": "lux", "type": "quantitative", "scale": {"domain": [0, 1500], "nice": false}, "axis": {"values": [0, 300, 600, 900, 1200, 1500], "labels": false, "title": null}}
              },
              "layer": [
                {"mark": {"type": "line", "strokeWidth": 3.5}, "encoding": {"detail": {"field": "case"}, "color": {"condition": [{"test": "datum.case === 'Case 1'", "value": "#ff3c3c"}, {"test": "datum.case === 'Case 2'", "value": "#62bb55"}], "value": "#333333"}}},
                {"mark": {"type": "point", "filled": true, "opacity": 1}, "encoding": {"color": {"condition": [{"test": "datum.case === 'Case 1'", "value": "#ff1414"}, {"test": "datum.case === 'Case 2'", "value": "#3aab36"}], "value": "#000000"}, "shape": {"condition": [{"test": "datum.case === 'Case 1'", "value": "circle"}, {"test": "datum.case === 'Case 2'", "value": "square"}], "value": "triangle-up"}, "size": {"condition": {"test": "datum.case === 'Case 3'", "value": 1200}, "value": 800}}}
              ]
            },
            {
              "width": 627, "height": 67,
              "data": {"name": "brace"},
              "mark": {"type": "line", "color": "#3c3c3c", "strokeWidth": 5},
              "encoding": {
                "x": {"field": "pos", "type": "quantitative", "scale": {"domain": [0.5445, 6.89], "nice": false, "zero": false}, "axis": {"labels": false, "domain": false, "title": "13:00–14:00", "titleX": 282, "titleAlign": "center", "titlePadding": -7, "titleFontSize": 74, "titleFontStyle": "normal"}},
                "y": {"field": "level", "type": "quantitative", "scale": {"domain": [0, 1], "nice": false, "zero": false}, "axis": null}
              }
            }
          ]
        },
        {
          "spacing": 24,
          "vconcat": [
            {
              "width": 601, "height": 489,
              "data": {"name": "illum"},
              "transform": [{"filter": "datum.panel === 'b' && datum.period === '14:00–15:00'"}],
              "encoding": {
                "x": {"field": "sensor", "type": "quantitative", "scale": {"domain": [0.5445, 6.628], "nice": false, "zero": false}, "axis": {"values": [1, 2, 3, 4, 5, 6], "labelExpr": "'X' + ['₁','₂','₃','₄','₅','₆'][datum.value - 1]", "title": null}},
                "y": {"field": "lux", "type": "quantitative", "scale": {"domain": [0, 1500], "nice": false}, "axis": {"values": [0, 300, 600, 900, 1200, 1500], "labels": false, "title": null}}
              },
              "layer": [
                {"mark": {"type": "line", "strokeWidth": 3.5}, "encoding": {"detail": {"field": "case"}, "color": {"condition": [{"test": "datum.case === 'Case 1'", "value": "#ff3c3c"}, {"test": "datum.case === 'Case 2'", "value": "#62bb55"}], "value": "#333333"}}},
                {"mark": {"type": "point", "filled": true, "opacity": 1}, "encoding": {"color": {"condition": [{"test": "datum.case === 'Case 1'", "value": "#ff1414"}, {"test": "datum.case === 'Case 2'", "value": "#3aab36"}], "value": "#000000"}, "shape": {"condition": [{"test": "datum.case === 'Case 1'", "value": "circle"}, {"test": "datum.case === 'Case 2'", "value": "square"}], "value": "triangle-up"}, "size": {"condition": {"test": "datum.case === 'Case 3'", "value": 1200}, "value": 800}}}
              ]
            },
            {
              "width": 601, "height": 67,
              "data": {"name": "brace"},
              "mark": {"type": "line", "color": "#3c3c3c", "strokeWidth": 5},
              "encoding": {
                "x": {"field": "pos", "type": "quantitative", "scale": {"domain": [0.5445, 6.628], "nice": false, "zero": false}, "axis": {"labels": false, "domain": false, "title": "14:00–15:00", "titleX": 282, "titleAlign": "center", "titlePadding": -7, "titleFontSize": 74, "titleFontStyle": "normal"}},
                "y": {"field": "level", "type": "quantitative", "scale": {"domain": [0, 1], "nice": false, "zero": false}, "axis": null}
              }
            }
          ]
        }
      ]
    }
  ],
  "spacing": 70,
  "config": {
    "font": "Liberation Serif",
    "view": {"stroke": null},
    "axis": {"labelColor": "#000000", "titleColor": "#000000", "titleFontWeight": "normal", "titleFont": "Liberation Serif", "labelFont": "Liberation Serif", "ticks": false, "tickSize": 0},
    "axisX": {"grid": false, "labelFontSize": 72, "labelFontStyle": "italic", "labelPadding": 40, "domainColor": "#a6a6a6", "domainWidth": 6, "labelFlush": false},
    "axisY": {"grid": true, "gridColor": "#e6e6e6", "gridWidth": 4, "domain": false, "labelFontSize": 64, "labelPadding": 26, "titleFontSize": 64, "labelBaseline": "middle"},
    "legend": {"labelFont": "Liberation Serif", "labelFontSize": 76, "labelColor": "#000000", "symbolSize": 3600, "labelOffset": 33, "columnPadding": 85, "symbolStrokeWidth": 0},
    "title": {"font": "Liberation Serif", "fontWeight": "normal", "color": "#000000"}
  }
}
